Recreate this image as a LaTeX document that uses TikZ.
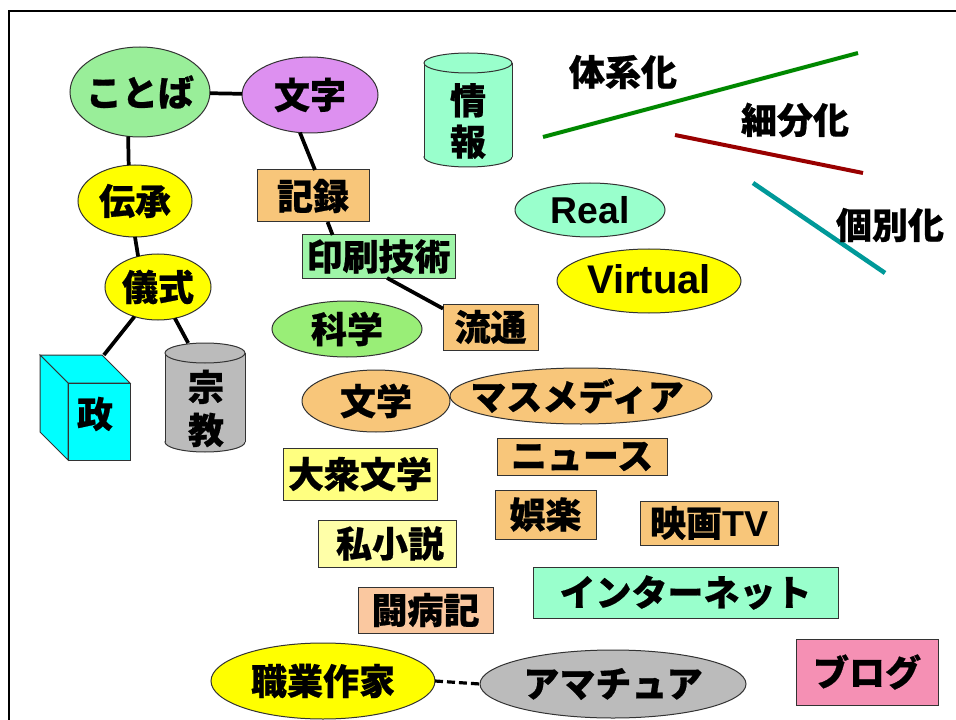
\documentclass[tikz,border=0pt]{standalone}
\usepackage{fontspec}
\setmainfont{Noto Sans CJK JP}[BoldFeatures={FakeBold=0.6}]
\newfontfamily\lat{Liberation Sans}
\usetikzlibrary{shapes.geometric,calc}
\definecolor{cKoto}{HTML}{99EE99}
\definecolor{cMoji}{HTML}{DD90F0}
\definecolor{cYel}{HTML}{FFFF00}
\definecolor{cOra}{HTML}{F8C67A}
\definecolor{cInsatsu}{HTML}{9EF5A8}
\definecolor{cKagaku}{HTML}{99EE77}
\definecolor{cAqua}{HTML}{99FFCC}
\definecolor{cLYa}{HTML}{FFFF80}
\definecolor{cLYb}{HTML}{FFFFA8}
\definecolor{cPeach}{HTML}{FAC8A0}
\definecolor{cPink}{HTML}{F590B4}
\definecolor{cGray}{HTML}{BBBBBB}
\definecolor{cCyan}{HTML}{00FFFF}
\definecolor{cGreenL}{HTML}{008800}
\definecolor{cRedL}{HTML}{990000}
\definecolor{cTealL}{HTML}{009999}
\begin{document}
\begin{tikzpicture}[x=0.75pt,y=-0.75pt,
  every node/.style={font=\fontsize{27}{32}\selectfont\bfseries, inner sep=0pt, outer sep=0pt},
  outl/.style={draw=black!80, line width=0.75pt},
  con/.style={line width=2.8pt, black},
  ell/.style={ellipse, outl},
  box/.style={rectangle, outl},
  latin/.style={font=\fontsize{28}{32}\selectfont\lat\bfseries},
  stack/.style={align=center, font=\fontsize{27}{31}\selectfont\bfseries},
]
\useasboundingbox (0,0) rectangle (956,720);
\draw[line width=1.5pt] (9,730) -- (9,11) -- (966,11);

% decorative lines
\coordinate (g1) at (543,137); \coordinate (g2) at (858,53);
\coordinate (r1) at (675,135); \coordinate (r2) at (863,173);
\coordinate (t1) at (753,183); \coordinate (t2) at (885,273);
\draw[cGreenL, line width=3pt] (g1) -- (g2);
\draw[cRedL, line width=3pt] (r1) -- (r2);
\draw[cTealL, line width=3.4pt] (t1) -- (t2);
\node (taikei) at (623,72) {体系化};
\node (saibun) at (795,120) {細分化};
\node (kobetsu) at (890,225) {個別化};

% ellipses
\node[ell, fill=cKoto, minimum width=105pt, minimum height=67.5pt] (kotoba) at (140,92) {};
\node (kotobaT) at (kotoba) {ことば};
\node[ell, fill=cMoji, minimum width=102pt, minimum height=57pt] (moji) at (310,95) {};
\node (mojiT) at (moji) {文字};
\node[ell, fill=cYel, minimum width=85.5pt, minimum height=54pt] (densho) at (135,201) {};
\node (denshoT) at (densho) {伝承};
\node[ell, fill=cYel, minimum width=79.5pt, minimum height=49.5pt] (gishiki) at (158,287) {};
\node (gishikiT) at (gishiki) {儀式};
\node[ell, fill=cKagaku, minimum width=112.5pt, minimum height=42pt] (kagaku) at (347,329) {};
\node (kagakuT) at (kagaku) {科学};
\node[ell, fill=cOra, minimum width=111pt, minimum height=46.5pt] (bungaku) at (376,401) {};
\node (bungakuT) at (bungaku) {文学};
\node[ell, fill=cOra, minimum width=196.5pt, minimum height=42pt] (masu) at (581,396) {};
\node (masuT) at (577,396) {マスメディア};
\node[ell, fill=cAqua, minimum width=112.5pt, minimum height=40.5pt] (real) at (590,210) {};
\node[latin] (realT) at (real) {Real};
\node[ell, fill=cYel, minimum width=138pt, minimum height=48pt] (virtual) at (649,281) {};
\node[latin, font=\fontsize{30}{34}\selectfont\lat\bfseries] (virtualT) at (649,279) {Virtual};
\node[ell, fill=cYel, minimum width=168pt, minimum height=57pt] (shokugyo) at (323,681) {};
\node (shokugyoT) at (shokugyo) {職業作家};
\node[ell, fill=cGray, minimum width=199.5pt, minimum height=51pt] (amachua) at (613,684) {};
\node (amachuaT) at (amachua) {アマチュア};

% rectangles
\node[box, fill=cOra, minimum width=84pt, minimum height=39pt] (kiroku) at (313,196) {記録};
\node[box, fill=cInsatsu, minimum width=114.75pt, minimum height=32.25pt] (insatsu) at (378.5,256.5) {印刷技術};
\node[box, fill=cOra, minimum width=71.25pt, minimum height=34.5pt] (ryutsu) at (490.5,327) {流通};
\node[box, fill=cLYa, minimum width=115.5pt, minimum height=39pt] (taishu) at (360,474) {大衆文学};
\node[box, fill=cLYb, minimum width=103.5pt, minimum height=35.25pt] (shishosetsu) at (387,543.5) {};
\node (shishosetsuT) at (390,543.5) {私小説};
\node[box, fill=cPeach, minimum width=101.25pt, minimum height=34.5pt] (tobyoki) at (425.5,610) {闘病記};
\node[box, fill=cOra, minimum width=127.5pt, minimum height=27.75pt] (news) at (582,456.5) {ニュース};
\node[box, fill=cOra, minimum width=75.75pt, minimum height=36.75pt] (goraku) at (545.5,514.5) {娯楽};
\node[box, fill=cOra, minimum width=103.5pt, minimum height=33pt] (eiga) at (709,523) {映画{\lat TV}};
\node[box, fill=cAqua, minimum width=228.75pt, minimum height=38.25pt] (internet) at (685.5,592.5) {インターネット};
\node[box, fill=cPink, minimum width=106.5pt, minimum height=49.5pt] (blog) at (867,672) {ブログ};

% cylinder 情報
\fill[cAqua] (468,157) ellipse [x radius=44, y radius=10];
\draw[outl] (468,157) ellipse [x radius=44, y radius=10];
\fill[cAqua] (424,63) rectangle (512,157);
\draw[outl] (424,63) -- (424,157) (512,63) -- (512,157);
\filldraw[fill=cAqua, outl] (468,63) ellipse [x radius=44, y radius=10];
\node[minimum width=66pt, minimum height=85.5pt] (joho) at (468,110) {};
\node[stack] (johoT) at (468,121) {情\\報};

% cylinder 宗教
\fill[cGray] (205,442) ellipse [x radius=40, y radius=10];
\draw[outl] (205,442) ellipse [x radius=40, y radius=10];
\fill[cGray] (165,353) rectangle (245,442);
\draw[outl] (165,353) -- (165,442) (245,353) -- (245,442);
\filldraw[fill=cGray, outl] (205,353) ellipse [x radius=40, y radius=10];
\node[minimum width=60pt, minimum height=81.75pt] (shukyo) at (205,397.5) {};
\node[font=\fontsize{27}{32.25}\selectfont\bfseries, align=center] (shukyoT) at (206,408.5) {宗\\教};

% cube 政
\node[minimum width=67.5pt, minimum height=78.75pt] (sei) at (85,407.5) {};
\filldraw[fill=cCyan, outl] (40,355) -- (102,355) -- (130,383) -- (68,383) -- cycle;
\filldraw[fill=cCyan, outl] (40,355) -- (68,383) -- (68,460) -- (40,432) -- cycle;
\node[box, fill=cCyan, minimum width=46.5pt, minimum height=57.75pt] (seiF) at (99,421.5) {};
\node (seiT) at (95,414) {政};

% connectors
\draw[con] (kotoba) -- (moji);
\draw[con] (kotoba.255) -- (densho.100);
\draw[con] (densho.south) -- (gishiki.123);
\draw[con] (gishiki) -- ($(sei.north west)!0.71!(sei.north east)$);
\draw[con] (gishiki) -- ($(shukyo.north west)!0.29!(shukyo.north east)$);
\draw[con] (moji.255) -- ($(kiroku.north)+(2,0)$);
\draw[con] ($(kiroku.south west)!0.63!(kiroku.south east)$) -- ($(insatsu.north west)!0.2!(insatsu.north east)$);
\draw[con] ($(insatsu.south west)!0.556!(insatsu.south east)$) -- ($(ryutsu.north west)!0.1!(ryutsu.south west)$);
\draw[line width=2.4pt, dash pattern=on 6pt off 3pt] (shokugyo.east) -- (amachua.west);
\end{tikzpicture}
\end{document}
